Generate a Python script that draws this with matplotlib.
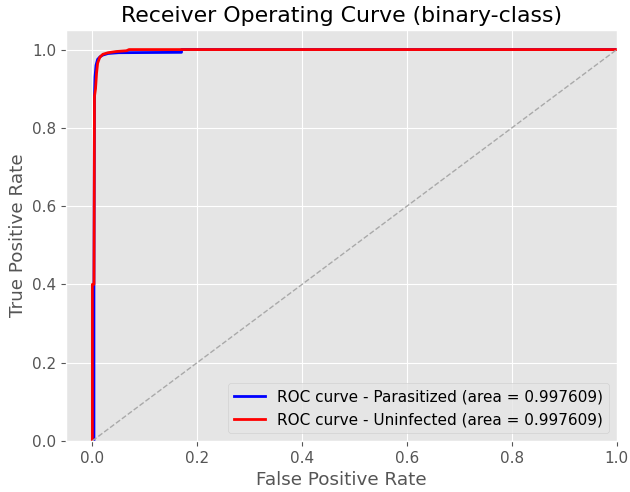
import matplotlib
matplotlib.use("Agg")
import matplotlib.pyplot as plt

plt.style.use("ggplot")
plt.rcParams["font.size"] = 11

fpr_parasitized = [0, 0.003, 0.003, 0.004, 0.005, 0.007, 0.010, 0.015, 0.02, 0.03, 0.05, 0.17, 0.17, 1.0]
tpr_parasitized = [0, 0, 0.40, 0.88, 0.93, 0.96, 0.975, 0.982, 0.986, 0.99, 0.992, 0.993, 1.0, 1.0]
fpr_uninfected = [0, 0, 0.003, 0.004, 0.006, 0.008, 0.010, 0.014, 0.02, 0.03, 0.045, 0.065, 0.07, 1.0]
tpr_uninfected = [0, 0.40, 0.40, 0.88, 0.90, 0.94, 0.965, 0.98, 0.988, 0.992, 0.995, 0.997, 1.0, 1.0]
auc_parasitized = 0.997609
auc_uninfected = 0.997609

fig = plt.figure(figsize=(6.3, 4.92), dpi=100)
ax = fig.add_axes([0.105, 0.104, 0.874, 0.835])
ax.plot(fpr_parasitized, tpr_parasitized, color="blue", lw=2,
        label="ROC curve - Parasitized (area = %0.6f)" % auc_parasitized)
ax.plot(fpr_uninfected, tpr_uninfected, color="red", lw=2,
        label="ROC curve - Uninfected (area = %0.6f)" % auc_uninfected)
ax.plot([0, 1], [0, 1], color="darkgray", lw=1, linestyle="--")
ax.set_xlim(-0.05, 1.0)
ax.set_ylim(0.0, 1.05)
ax.set_xlabel("False Positive Rate")
ax.set_ylabel("True Positive Rate")
ax.set_title("Receiver Operating Curve (binary-class)")
ax.legend(loc="lower right")
fig.savefig("out.png", dpi=100)
